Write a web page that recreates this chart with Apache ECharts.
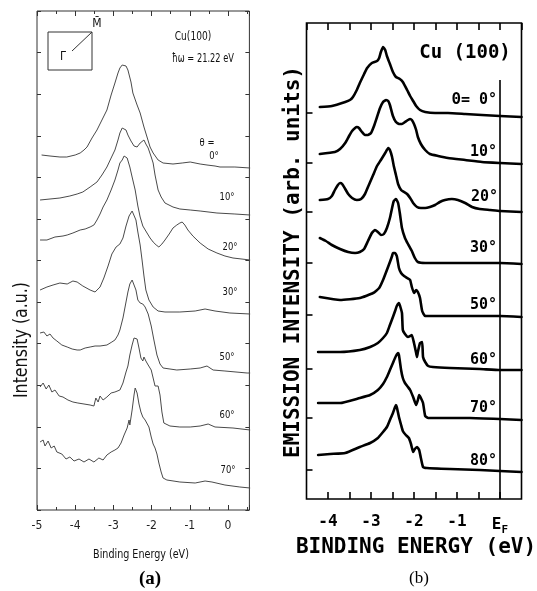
<!DOCTYPE html>
<html>
<head>
<meta charset="utf-8">
<script src="https://cdn.jsdelivr.net/npm/echarts@6/dist/echarts.min.js"></script>
<style>
html,body{margin:0;padding:0;background:#fff;}
#c{width:537px;height:591px;}
</style>
</head>
<body>
<div id="c"></div>
<script>
// ---------- Panel (a): measured spectra [binding energy (eV), intensity (a.u., offset)] ----------
const anglesA = ['0°', '10°', '20°', '30°', '50°', '60°', '70°'];
const curveA0 = [[-4.88,355],[-4.66,354],[-4.40,353],[-4.22,353],[-4.00,355],[-3.87,357],[-3.77,360],[-3.69,363],[-3.56,372],[-3.43,380],[-3.30,390],[-3.17,400],[-3.06,415],[-2.96,427],[-2.88,437],[-2.83,442],[-2.77,445],[-2.72,447],[-2.67,444],[-2.62,440],[-2.54,428],[-2.49,417],[-2.38,405],[-2.30,397],[-2.20,383],[-2.12,373],[-2.04,363],[-1.96,357],[-1.83,350],[-1.70,347],[-1.44,346],[-1.20,347],[-0.99,348],[-0.73,346],[-0.55,345],[-0.34,344],[-0.21,343],[0.18,343],[0.58,342]];
const curveA1 = [[-4.92,310],[-4.66,311],[-4.40,312],[-4.14,314],[-3.95,316],[-3.80,318],[-3.61,323],[-3.43,328],[-3.30,335],[-3.17,343],[-3.06,352],[-2.96,360],[-2.88,370],[-2.83,377],[-2.77,382],[-2.72,383],[-2.67,380],[-2.62,375],[-2.54,369],[-2.46,364],[-2.38,363],[-2.30,367],[-2.25,369],[-2.20,370],[-2.15,366],[-2.09,362],[-2.01,353],[-1.96,347],[-1.91,335],[-1.83,320],[-1.75,313],[-1.65,307],[-1.44,303],[-1.26,301],[-0.99,300],[-0.73,299],[-0.29,297],[0.18,296],[0.58,295]];
const curveA2 = [[-4.92,270],[-4.74,270],[-4.53,273],[-4.32,274],[-4.21,275],[-4.06,277],[-3.87,280],[-3.74,281],[-3.61,283],[-3.51,285],[-3.43,290],[-3.35,296],[-3.27,303],[-3.17,310],[-3.06,320],[-2.96,330],[-2.88,340],[-2.83,347],[-2.77,350],[-2.72,354],[-2.70,355],[-2.64,352],[-2.57,343],[-2.51,333],[-2.43,320],[-2.36,304],[-2.30,293],[-2.23,284],[-2.12,277],[-2.04,272],[-1.96,268],[-1.88,265],[-1.81,263],[-1.73,266],[-1.65,270],[-1.54,276],[-1.44,282],[-1.34,285],[-1.26,287],[-1.20,288],[-1.13,285],[-1.05,280],[-0.92,274],[-0.73,267],[-0.52,261],[-0.29,257],[-0.08,254],[0.13,252],[0.58,250]];
const curveA3 = [[-4.92,220],[-4.74,223],[-4.58,225],[-4.40,227],[-4.21,226],[-4.06,229],[-3.95,228],[-3.80,224],[-3.61,220],[-3.48,218],[-3.35,223],[-3.25,232],[-3.14,244],[-3.04,256],[-2.93,263],[-2.83,266],[-2.75,272],[-2.67,284],[-2.59,294],[-2.51,299],[-2.46,297],[-2.41,290],[-2.36,278],[-2.30,265],[-2.25,250],[-2.20,234],[-2.15,220],[-2.07,210],[-1.96,203],[-1.83,199],[-1.65,198],[-1.26,198],[-0.86,199],[-0.60,201],[-0.34,199],[0.05,197],[0.58,196]];
const curveA4 = [[-4.92,177],[-4.82,178],[-4.74,174],[-4.66,176],[-4.58,172],[-4.48,169],[-4.35,165],[-4.21,163],[-4.08,161],[-3.95,160],[-3.87,160],[-3.74,162],[-3.61,163],[-3.48,164],[-3.35,164],[-3.17,165],[-3.04,168],[-2.96,170],[-2.88,175],[-2.83,180],[-2.75,192],[-2.70,202],[-2.62,218],[-2.57,226],[-2.51,230],[-2.46,228],[-2.41,220],[-2.36,210],[-2.30,207],[-2.23,206],[-2.17,203],[-2.09,196],[-2.01,184],[-1.94,170],[-1.86,155],[-1.78,146],[-1.70,142],[-1.52,141],[-1.34,140],[-0.99,141],[-0.73,142],[-0.55,144],[-0.39,140],[-0.08,139],[0.50,137],[0.58,137]];
const curveA5 = [[-4.92,123],[-4.84,127],[-4.76,121],[-4.69,125],[-4.61,118],[-4.53,120],[-4.42,114],[-4.32,113],[-4.19,110],[-4.06,108],[-3.93,107],[-3.77,106],[-3.61,105],[-3.51,104],[-3.46,112],[-3.40,108],[-3.35,114],[-3.27,110],[-3.17,113],[-3.06,117],[-2.96,118],[-2.83,120],[-2.75,127],[-2.67,138],[-2.62,144],[-2.57,155],[-2.51,165],[-2.46,172],[-2.43,174],[-2.38,171],[-2.33,162],[-2.28,152],[-2.23,149],[-2.20,153],[-2.15,149],[-2.09,145],[-2.01,140],[-1.96,132],[-1.91,124],[-1.86,126],[-1.83,124],[-1.78,115],[-1.73,98],[-1.68,87],[-1.52,84],[-1.26,83],[-0.99,83],[-0.73,84],[-0.52,86],[-0.34,83],[0.13,82],[0.58,80]];
const curveA6 = [[-4.92,68],[-4.84,70],[-4.79,64],[-4.71,69],[-4.63,62],[-4.55,64],[-4.48,58],[-4.35,56],[-4.24,51],[-4.14,53],[-4.03,49],[-3.90,51],[-3.77,48],[-3.64,51],[-3.51,48],[-3.38,52],[-3.27,50],[-3.17,55],[-3.06,58],[-2.96,60],[-2.88,62],[-2.80,67],[-2.72,75],[-2.64,82],[-2.59,90],[-2.57,85],[-2.51,100],[-2.46,115],[-2.43,122],[-2.38,117],[-2.33,106],[-2.28,98],[-2.23,93],[-2.17,90],[-2.12,89],[-2.07,83],[-2.01,73],[-1.96,66],[-1.91,62],[-1.86,56],[-1.81,47],[-1.75,38],[-1.70,32],[-1.60,30],[-1.26,28],[-0.86,27],[-0.60,29],[-0.42,28],[-0.08,25],[0.31,23],[0.58,22]];
const curvesA = [curveA0, curveA1, curveA2, curveA3, curveA4, curveA5, curveA6];
const ticksA = [-5, -4, -3, -2, -1, 0];

// ---------- Panel (b): calculated spectra ----------
const anglesB = ['Θ= 0°', '10°', '20°', '30°', '50°', '60°', '70°', '80°'];
const baselinesB = [386, 336, 287, 236, 184, 130, 81, 29];
const fermiLineTopB = 419;
const curveB0 = [[-4.19,392],[-3.91,393],[-3.60,397],[-3.49,399],[-3.42,402],[-3.33,409],[-3.26,416],[-3.16,425],[-3.09,431],[-2.98,436],[-2.86,438],[-2.81,441],[-2.77,447],[-2.72,452],[-2.67,449],[-2.63,443],[-2.56,435],[-2.49,427],[-2.42,422],[-2.33,420],[-2.26,417],[-2.16,409],[-2.09,403],[-2.02,398],[-1.95,393],[-1.86,389],[-1.74,387],[-1.51,386],[-1.21,386],[-0.81,385],[-0.42,384],[0.0,383],[0.5,382]];
const curveB1 = [[-4.19,345],[-3.84,347],[-3.72,350],[-3.60,356],[-3.51,363],[-3.44,368],[-3.37,371],[-3.33,372],[-3.28,371],[-3.21,367],[-3.14,364],[-3.07,364],[-3.00,366],[-2.93,373],[-2.86,382],[-2.79,391],[-2.72,397],[-2.65,399],[-2.60,398],[-2.56,394],[-2.49,383],[-2.42,377],[-2.35,375],[-2.28,375],[-2.21,377],[-2.14,379],[-2.09,380],[-2.05,379],[-2.00,375],[-1.95,369],[-1.91,362],[-1.84,355],[-1.74,349],[-1.63,345],[-1.44,343],[-1.21,341],[-0.81,339],[-0.42,337],[0.0,336],[0.5,335]];
const curveB2 = [[-4.19,299],[-4.00,300],[-3.91,303],[-3.84,309],[-3.77,314],[-3.72,316],[-3.67,315],[-3.60,310],[-3.53,305],[-3.44,301],[-3.33,299],[-3.23,300],[-3.14,305],[-3.05,314],[-2.95,324],[-2.86,333],[-2.77,339],[-2.67,346],[-2.60,351],[-2.56,349],[-2.51,342],[-2.47,333],[-2.42,324],[-2.37,315],[-2.30,309],[-2.23,307],[-2.16,305],[-2.09,301],[-2.02,296],[-1.93,292],[-1.84,291],[-1.74,291],[-1.63,292],[-1.51,294],[-1.40,297],[-1.28,299],[-1.12,300],[-0.98,299],[-0.81,296],[-0.65,292],[-0.47,290],[-0.23,289],[0.0,288],[0.5,287]];
const curveB3 = [[-4.19,261],[-4.05,258],[-3.91,254],[-3.72,250],[-3.53,247],[-3.37,246],[-3.26,247],[-3.16,250],[-3.07,258],[-2.98,266],[-2.91,269],[-2.84,267],[-2.77,264],[-2.70,265],[-2.63,271],[-2.56,281],[-2.51,291],[-2.47,298],[-2.42,300],[-2.37,296],[-2.33,286],[-2.28,271],[-2.21,261],[-2.14,255],[-2.05,248],[-1.98,241],[-1.91,237],[-1.74,236],[-1.16,236],[-0.47,236],[0.0,236],[0.5,235]];
const curveB4 = [[-4.19,202],[-3.72,199],[-3.26,201],[-2.95,206],[-2.81,211],[-2.72,219],[-2.63,229],[-2.56,237],[-2.51,243],[-2.49,246],[-2.44,246],[-2.40,243],[-2.35,231],[-2.30,226],[-2.23,223],[-2.16,221],[-2.09,219],[-2.05,212],[-2.00,206],[-1.95,209],[-1.91,207],[-1.86,201],[-1.81,188],[-1.74,183],[-1.40,183],[-0.70,183],[0.0,183],[0.5,182]];
const curveB5 = [[-4.23,147],[-3.72,147],[-3.26,149],[-3.02,152],[-2.84,156],[-2.72,161],[-2.63,166],[-2.56,174],[-2.49,182],[-2.44,188],[-2.40,193],[-2.35,196],[-2.33,194],[-2.28,186],[-2.26,169],[-2.21,165],[-2.14,162],[-2.09,163],[-2.05,164],[-2.00,156],[-1.95,146],[-1.93,142],[-1.91,147],[-1.86,156],[-1.81,157],[-1.79,142],[-1.74,137],[-1.67,133],[-1.56,132],[-1.16,131],[-0.47,130],[0.0,129],[0.5,129]];
const curveB6 = [[-4.23,96],[-3.72,96],[-3.26,101],[-3.02,104],[-2.84,109],[-2.72,115],[-2.63,122],[-2.56,129],[-2.49,136],[-2.42,143],[-2.37,146],[-2.35,144],[-2.30,129],[-2.26,121],[-2.21,116],[-2.14,112],[-2.09,109],[-2.02,102],[-1.95,94],[-1.91,99],[-1.88,104],[-1.84,101],[-1.79,96],[-1.74,83],[-1.67,81],[-1.40,81],[-0.70,81],[0.0,80],[0.5,79]];
const curveB7 = [[-4.23,44],[-3.95,45],[-3.60,46],[-3.26,52],[-3.02,56],[-2.84,61],[-2.72,67],[-2.63,72],[-2.56,79],[-2.49,86],[-2.44,92],[-2.42,94],[-2.40,92],[-2.35,82],[-2.30,74],[-2.26,68],[-2.19,64],[-2.12,61],[-2.07,55],[-2.02,47],[-1.98,50],[-1.93,52],[-1.88,49],[-1.84,41],[-1.79,32],[-1.70,31],[-1.16,30],[-0.47,29],[0.0,28],[0.5,27]];
const curvesB = [curveB0, curveB1, curveB2, curveB3, curveB4, curveB5, curveB6, curveB7];
const ticksB = [-4, -3, -2, -1, 0];

// ---------- styling / layout ----------
const NARROW = '"Liberation Sans Narrow","DejaVu Sans Condensed","Liberation Sans",sans-serif';
const MONO = '"DejaVu Sans Mono","Liberation Mono",monospace';
const SERIF = '"Liberation Serif","DejaVu Serif",serif';
const posA = [[214,156],[227,197],[230,247],[230,292],[227,357],[227,415],[228,470]];
const posB = [[497,100],[497,152],[498,197],[497,248],[497,305],[497,360],[497,408],[497,461]];

const chart = echarts.init(document.getElementById('c'), null, {renderer: 'canvas'});

function xAxisA(position, showLabel) {
  return {
    gridIndex: 0, type: 'value', position: position, min: -5, max: 0.56, interval: 1,
    axisLine: {show: false, onZero: false}, splitLine: {show: false},
    axisTick: {show: true, inside: true, length: 5, lineStyle: {color: '#333', width: 1}},
    minorTick: {show: true, splitNumber: 2, length: 3, lineStyle: {color: '#333', width: 1}},
    axisLabel: {show: showLabel, margin: 10, color: '#222', fontFamily: NARROW, fontSize: 12,
      showMaxLabel: false,
      formatter: v => (ticksA.indexOf(Math.round(v * 100) / 100) >= 0 ? String(Math.round(v)) : '')}
  };
}
function yAxisA(position) {
  return {
    gridIndex: 0, type: 'value', position: position, min: 0, max: 499, interval: 499 / 12,
    axisLine: {show: false, onZero: false}, splitLine: {show: false}, axisLabel: {show: false},
    axisTick: {show: true, inside: true, length: 4, lineStyle: {color: '#333', width: 1}}
  };
}
function xAxisB(position, showLabel) {
  return {
    gridIndex: 1, type: 'value', position: position, min: -4.5, max: 0.5, interval: 0.5,
    axisLine: {show: false, onZero: false}, splitLine: {show: false},
    axisTick: {show: true, inside: true, length: 7, lineStyle: {color: '#000', width: 1.6}},
    axisLabel: {show: showLabel, margin: 15, color: '#000', fontFamily: MONO, fontWeight: 'bold', fontSize: 16,
      showMinLabel: false, showMaxLabel: false,
      formatter: v => {
        const r = Math.round(v * 100) / 100;
        if (ticksB.indexOf(r) < 0) return '';
        return r === 0 ? '{e|E}{f|F}' : String(r);
      },
      rich: {
        e: {fontFamily: MONO, fontWeight: 'bold', fontSize: 16, lineHeight: 22, color: '#000'},
        f: {fontFamily: MONO, fontWeight: 'bold', fontSize: 11, lineHeight: 11, verticalAlign: 'bottom', color: '#000'}
      }}
  };
}

const series = [];
curvesA.forEach((c, i) => series.push({
  type: 'line', name: 'a ' + anglesA[i], xAxisIndex: 0, yAxisIndex: 0, data: c,
  showSymbol: false, symbol: 'none', smooth: false, silent: true,
  lineStyle: {color: '#4a4a4a', width: 1}
}));
curvesB.forEach((c, i) => series.push({
  type: 'line', name: 'b ' + anglesB[i], xAxisIndex: 2, yAxisIndex: 2, data: c,
  showSymbol: false, symbol: 'none', smooth: 0.15, silent: true,
  lineStyle: {color: '#000', width: 2.6, join: 'round', cap: 'round'}
}));
series.push({
  type: 'line', name: 'EF', xAxisIndex: 2, yAxisIndex: 2, data: [[0, 0], [0, fermiLineTopB]],
  showSymbol: false, symbol: 'none', silent: true, lineStyle: {color: '#000', width: 1.6}
});

function txt(x, y, text, font, opts, extra) {
  return Object.assign({
    type: 'text', x: x, y: y, silent: true,
    style: Object.assign({text: text, font: font, fill: '#111', align: 'center', verticalAlign: 'middle'}, opts || {})
  }, extra || {});
}

const graphics = [];
// panel (a) inset and annotations
graphics.push({type: 'rect', shape: {x: 48, y: 32, width: 44, height: 38}, style: {fill: 'none', stroke: '#333', lineWidth: 1}, silent: true});
graphics.push({type: 'line', shape: {x1: 72, y1: 51, x2: 92, y2: 32}, style: {stroke: '#333', lineWidth: 1}, silent: true});
graphics.push(txt(63, 57, 'Γ\u0304', '12px ' + NARROW));
graphics.push(txt(97, 24, 'M\u0304', '12px ' + NARROW));
graphics.push(txt(193, 37, 'Cu(100)', '12px ' + NARROW, null, {scaleX: 0.84}));
graphics.push(txt(203, 59, 'ħω = 21.22 eV', '11.5px ' + NARROW, null, {scaleX: 0.8}));
graphics.push(txt(207, 143, 'θ =', '11px ' + NARROW, null, {scaleX: 0.85}));
anglesA.forEach((a, i) => graphics.push(txt(posA[i][0], posA[i][1], a, '11px ' + NARROW, null, {scaleX: 0.85})));
graphics.push(txt(22, 340, 'Intensity (a.u.)', '20px ' + NARROW, null, {rotation: Math.PI / 2, scaleX: 0.88}));
graphics.push(txt(141, 555, 'Binding Energy (eV)', '13px ' + NARROW, null, {scaleX: 0.82}));
graphics.push(txt(150, 579, '(a)', 'bold 19px ' + SERIF, {fill: '#000'}));
// panel (b) annotations
graphics.push(txt(465, 53, 'Cu (100)', 'bold 19px ' + MONO, {fill: '#000'}));
anglesB.forEach((a, i) => graphics.push(txt(posB[i][0], posB[i][1], a, 'bold 15px ' + MONO, {fill: '#000', align: 'right'})));
graphics.push(txt(294, 262, 'EMISSION INTENSITY (arb. units)', 'bold 21px ' + MONO, {fill: '#000'}, {rotation: Math.PI / 2}));
graphics.push(txt(416, 548, 'BINDING ENERGY (eV)', 'bold 21px ' + MONO, {fill: '#000'}));
graphics.push(txt(419, 579, '(b)', '17px ' + SERIF, {fill: '#000'}));

chart.setOption({
  animation: false,
  backgroundColor: '#fff',
  grid: [
    {left: 37, top: 11, width: 212.4, height: 499, show: true, borderColor: '#333', borderWidth: 1, backgroundColor: 'transparent'},
    {left: 306.5, top: 23, width: 215, height: 476, show: true, borderColor: '#000', borderWidth: 1.6, backgroundColor: 'transparent'}
  ],
  xAxis: [xAxisA('bottom', true), xAxisA('top', false), xAxisB('bottom', true), xAxisB('top', false)],
  yAxis: [
    yAxisA('left'), yAxisA('right'),
    {gridIndex: 1, type: 'value', position: 'left', min: 0, max: 476,
      axisLine: {show: false, onZero: false}, splitLine: {show: false}, axisLabel: {show: false},
      axisTick: {show: true, inside: true, length: 6, customValues: baselinesB, lineStyle: {color: '#000', width: 1.6}}}
  ],
  series: series,
  graphic: graphics
});
</script>
</body>
</html>
